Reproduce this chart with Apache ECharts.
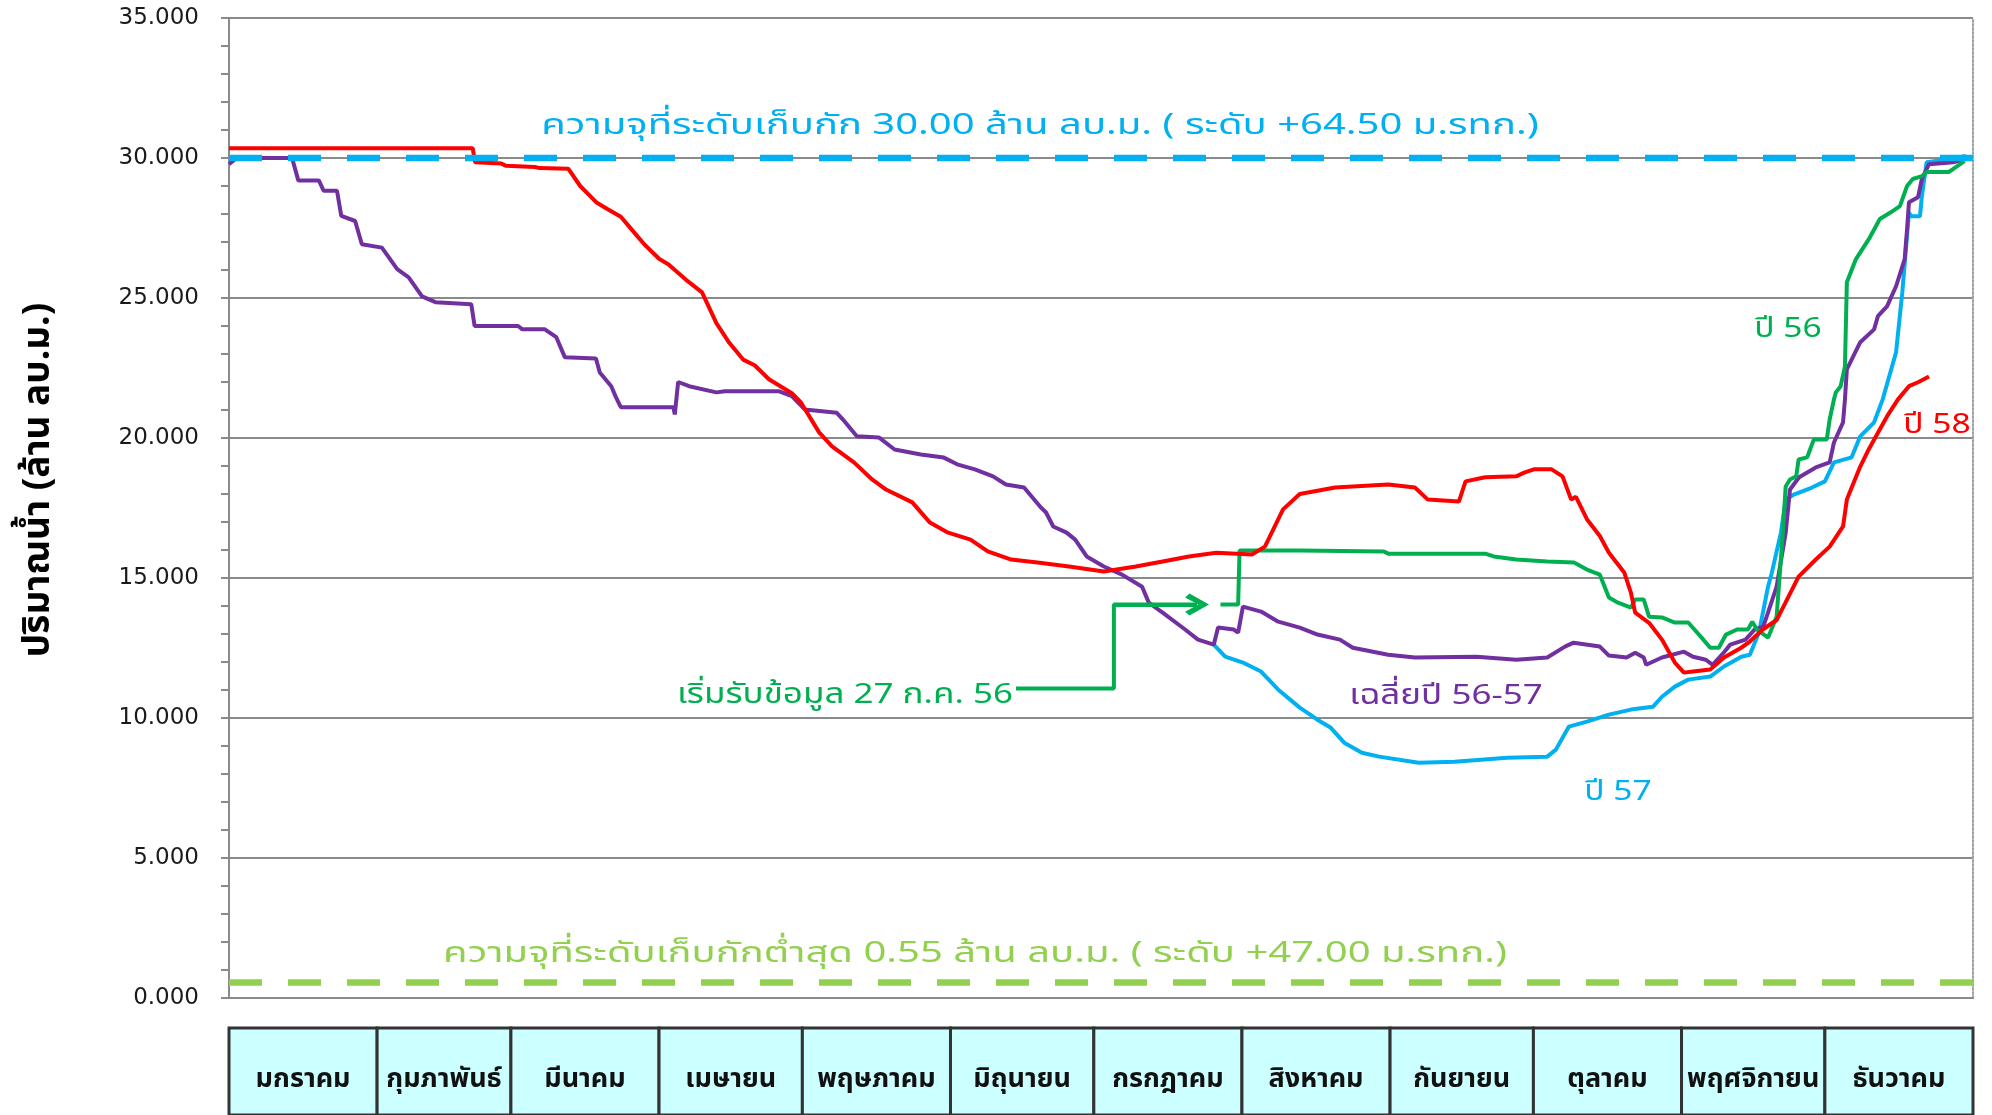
<!DOCTYPE html>
<html>
<head>
<meta charset="utf-8">
<script src="https://cdn.jsdelivr.net/npm/echarts@6/dist/echarts.min.js"></script>
<style>
  html, body { margin: 0; padding: 0; background: #fff; }
  #chart { width: 1992px; height: 1115px; }
</style>
</head>
<body>
<div id="chart"></div>
<script>
// storage (ล้าน ลบ.ม.) as [day of year, value]
const year58 = [[0,30.35],[51,30.35],[51.5,29.85],[57,29.8],[58,29.72],[64,29.68],[65,29.64],[71,29.62],[73.5,29.0],[77,28.4],[79,28.2],[82,27.9],[85,27.3],[87,26.9],[90,26.4],[92,26.2],[96,25.6],[99,25.2],[102,24.1],[104.7,23.4],[107.6,22.8],[110,22.6],[113,22.1],[117.8,21.6],[119.7,21.27],[123.5,20.2],[126.2,19.7],[130.8,19.13],[134.6,18.52],[137.5,18.16],[143,17.7],[146.7,16.98],[150.5,16.62],[155.2,16.37],[158.8,15.95],[163.7,15.66],[169.2,15.55],[175.8,15.41],[183.1,15.23],[189.8,15.41],[195.4,15.59],[200.9,15.77],[206.6,15.9],[214.1,15.84],[216.8,16.12],[220.6,17.45],[224.1,18.0],[231.5,18.23],[242.6,18.34],[248.2,18.23],[250.9,17.8],[257.4,17.73],[258.8,18.45],[262.9,18.6],[269.4,18.63],[271.2,18.77],[273.1,18.88],[276.8,18.88],[279.1,18.63],[280.9,17.8],[281.9,17.9],[284.2,17.1],[286.9,16.5],[288.8,15.9],[292,15.2],[293.4,14.48],[294.3,13.76],[297.2,13.4],[299.9,12.8],[302.6,11.98],[304.5,11.62],[306.4,11.66],[310,11.73],[312.9,12.16],[316.4,12.5],[318.3,12.73],[321,13.16],[323.9,13.5],[325.7,14.1],[328.5,15.05],[332.1,15.66],[335,16.12],[337.8,16.84],[338.6,17.8],[341.4,18.98],[343.2,19.6],[344.7,20.06],[347,20.77],[349.3,21.38],[351.6,21.85],[353.5,21.99],[355.8,22.2]];

const avg5657 = [[0,29.78],[1.6,30.0],[13.2,30.0],[14.5,29.2],[18.8,29.2],[19.8,28.83],[22.6,28.83],[23.5,27.93],[26.4,27.75],[27.8,26.92],[32,26.8],[35.2,26.03],[37.6,25.74],[40.4,25.06],[43.2,24.85],[50.7,24.78],[51.4,24.0],[60.5,24.0],[61.4,23.88],[66.1,23.88],[68.5,23.6],[70.3,22.88],[76.8,22.84],[77.6,22.34],[80,21.85],[81,21.45],[82,21.1],[93,21.1],[93.3,20.84],[94,22.0],[96.3,21.85],[102,21.63],[103.8,21.67],[115,21.67],[117.8,21.5],[120.5,21.02],[127.2,20.9],[128.5,20.66],[131.4,20.06],[136,20.02],[139.3,19.59],[144.8,19.41],[149.6,19.3],[152.4,19.06],[156.1,18.88],[159.9,18.63],[162.6,18.34],[166.4,18.23],[169.7,17.56],[171,17.34],[172.5,16.84],[175.3,16.62],[177.1,16.37],[179.5,15.77],[183.1,15.41],[186.9,15.12],[191.1,14.69],[192.5,14.12],[195.4,13.76],[200.1,13.16],[202.8,12.8],[206.1,12.62],[207,13.23],[210.3,13.16],[211.2,13.05],[212.2,13.98],[216,13.8],[219.6,13.44],[224.1,13.23],[227.8,12.98],[232.5,12.8],[235.2,12.51],[242.6,12.26],[248.2,12.16],[261.1,12.19],[269.4,12.08],[275.9,12.16],[279.6,12.55],[281.4,12.69],[286.9,12.55],[288.8,12.23],[292.5,12.16],[294.3,12.33],[296.1,12.16],[296.6,11.9],[299.9,12.16],[304.5,12.37],[306.4,12.19],[309.1,12.08],[310.5,11.9],[312.8,12.33],[314.2,12.62],[317.4,12.8],[319.3,13.16],[321.1,13.26],[322.1,13.76],[323.9,14.69],[325.8,16.62],[326.7,18.16],[328.6,18.6],[332.1,18.95],[335,19.13],[335.9,19.84],[337.8,20.56],[338.2,21.38],[338.6,22.45],[341.4,23.42],[344.3,23.88],[345.1,24.35],[347,24.7],[348.9,25.42],[350.7,26.39],[351.2,27.46],[351.6,28.42],[353.5,28.6],[354.3,29.25],[355.8,29.78],[360.8,29.85],[363.5,29.96]];

const year57 = [[206.1,12.62],[208.5,12.19],[212.2,11.98],[216,11.66],[219.6,11.01],[224.1,10.37],[227.8,9.94],[230.6,9.65],[233.4,9.12],[237.1,8.76],[240.7,8.62],[249,8.4],[256.5,8.44],[267.5,8.58],[275.9,8.62],[277.7,8.87],[280.4,9.69],[284.2,9.87],[288.8,10.12],[293.4,10.3],[298,10.4],[299.9,10.76],[302.6,11.12],[305.4,11.37],[310,11.48],[312.8,11.83],[316.5,12.19],[318.3,12.26],[320.2,13.05],[322.1,14.69],[322.9,15.19],[324.8,16.62],[325.8,17.8],[327.5,17.98],[331.3,18.23],[334,18.45],[335.9,19.13],[339.6,19.31],[341.4,20.06],[344.3,20.56],[346.1,21.38],[348.9,23.06],[350.2,25.2],[351.6,28.06],[352,27.92],[353.9,27.92],[354.3,28.64],[355.3,29.85],[359.9,29.96],[363.5,30.07]];

const year56 = [[207.5,14.05],[211.2,14.05],[211.5,15.98],[224.1,15.98],[241.7,15.95],[242.6,15.87],[262.9,15.87],[264.7,15.77],[269.4,15.66],[275.9,15.59],[281.5,15.55],[284.2,15.3],[286.9,15.12],[287.9,14.69],[288.8,14.3],[290.7,14.12],[293.4,13.94],[294.3,14.23],[296.1,14.23],[297.2,13.62],[299.9,13.59],[302.6,13.41],[305.4,13.41],[308.2,12.87],[310,12.51],[311.8,12.51],[313.3,12.98],[315.6,13.16],[317.9,13.16],[318.8,13.44],[319.8,13.16],[322.1,12.87],[323.9,13.62],[325.2,16.62],[325.8,18.27],[326.7,18.52],[328,18.63],[328.5,19.23],[330.3,19.31],[331.7,19.95],[334.4,19.95],[335,20.66],[335.9,21.38],[336.3,21.63],[337.3,21.85],[338.2,22.56],[338.6,25.56],[340.5,26.39],[343.2,27.1],[345.5,27.82],[347.8,28.06],[349.7,28.28],[351.2,29.0],[352.4,29.25],[354.3,29.35],[355.3,29.5],[359.9,29.5],[360.8,29.6],[363.2,29.89]];

// reference levels
const capacityMax = 30;
const capacityMin = 0.55;

// callout pointing at the start of the 2556 record
const startArrow = [[164.7,11.05],[185.2,11.05],[185.2,14.05],[202.6,14.05]];

// month table under the chart
const months = ['มกราคม','กุมภาพันธ์','มีนาคม','เมษายน','พฤษภาคม','มิถุนายน','กรกฎาคม','สิงหาคม','กันยายน','ตุลาคม','พฤศจิกายน','ธันวาคม'];
const monthDays = [31,28,31,30,31,30,31,31,30,31,30,31];

const yMin = 0, yMax = 35, yStep = 5;
const dayMax = 365;

const thaiFont = 'Tahoma, "Noto Sans Thai", "Noto Sans", "DejaVu Sans", sans-serif';

let acc = 0;
const monthCells = monthDays.map((d) => { const cell = [acc, acc + d]; acc += d; return cell; });

const chart = echarts.init(document.getElementById('chart'));

const seriesLine = (name, data, color, z) => ({
  name, type: 'line', data, z,
  showSymbol: false, symbol: 'none', silent: true,
  lineStyle: { color, width: 4 }
});

const levelLine = (value, color, z) => ({
  type: 'line', z, silent: true, symbol: 'none',
  data: [[0, value], [dayMax, value]],
  lineStyle: { color, width: 6.5, type: [33, 26] }
});

// annotation text, stretched sideways like the original picture
const note = (text, x, y, color, size, stretch, align) => ({
  type: 'text', x, y, z: 100, scaleX: stretch,
  style: {
    text, fill: color, font: `${size}px ${thaiFont}`,
    align: align || 'center', textAlign: align || 'center',
    verticalAlign: 'middle', textVerticalAlign: 'middle'
  }
});

chart.setOption({
  animation: false,
  backgroundColor: '#fff',
  grid: [
    { left: 229, right: 19, top: 18, bottom: 117 },
    { left: 229, right: 19, top: 1028, height: 100 }
  ],
  xAxis: [
    {
      type: 'value', gridIndex: 0, min: 0, max: dayMax,
      axisLine: { show: true, lineStyle: { color: '#8a8a8a', width: 2 } },
      axisTick: { show: false }, axisLabel: { show: false }, splitLine: { show: false }
    },
    { type: 'value', gridIndex: 1, min: 0, max: dayMax, show: false }
  ],
  yAxis: [
    {
      type: 'value', gridIndex: 0, min: yMin, max: yMax, interval: yStep,
      axisLine: { show: true, lineStyle: { color: '#8a8a8a', width: 2 } },
      axisTick: { show: true, length: 8, lineStyle: { color: '#8a8a8a', width: 2 } },
      minorTick: { show: true, splitNumber: 5, length: 8, lineStyle: { color: '#8a8a8a', width: 2 } },
      axisLabel: {
        formatter: (v) => v.toFixed(3), margin: 30,
        fontFamily: '"DejaVu Sans", sans-serif', fontSize: 23, color: '#1a1a1a'
      },
      splitLine: { show: true, lineStyle: { color: '#8a8a8a', width: 2 } }
    },
    {
      type: 'value', gridIndex: 0, position: 'right', min: yMin, max: yMax,
      axisLine: { show: true, lineStyle: { color: '#a0a0a0', width: 2, type: 'dotted' } },
      axisTick: { show: false }, axisLabel: { show: false }, splitLine: { show: false }
    },
    { type: 'value', gridIndex: 1, min: 0, max: 1, show: false }
  ],
  series: [
    seriesLine('ปี 57', year57, '#00B0F0', 3),
    seriesLine('เฉลี่ยปี 56-57', avg5657, '#7030A0', 4),
    seriesLine('ปี 56', year56, '#00B050', 5),
    seriesLine('ปี 58', year58, '#FF0000', 6),
    levelLine(capacityMax, '#00B0F0', 7),
    levelLine(capacityMin, '#92D050', 7),
    {
      type: 'line', z: 8, silent: true, symbol: 'none',
      data: startArrow,
      lineStyle: { color: '#00B050', width: 4 },
      markLine: {
        silent: true, animation: false,
        symbol: ['none', 'path://M10,0 L20,11 L16.5,13.5 L10,6 L3.5,13.5 L0,11 Z'],
        symbolSize: [22, 24],
        label: { show: false },
        lineStyle: { color: '#00B050', width: 4, type: 'solid' },
        data: [[{ coord: startArrow[2] }, { coord: startArrow[3] }]]
      }
    },
    {
      type: 'custom', xAxisIndex: 1, yAxisIndex: 2, clip: false, silent: true,
      data: monthCells,
      renderItem: (params, api) => {
        const p0 = api.coord([api.value(0), 1]);
        const p1 = api.coord([api.value(1), 0]);
        return {
          type: 'rect',
          shape: { x: p0[0], y: p0[1], width: p1[0] - p0[0], height: p1[1] - p0[1] },
          style: { fill: '#CCFFFF', stroke: '#333', lineWidth: 3 },
          textContent: {
            style: { text: months[params.dataIndex], font: `bold 27px ${thaiFont}`, fill: '#111' }
          },
          textConfig: { position: 'inside', offset: [0, 10] }
        };
      }
    }
  ],
  graphic: [
    note('ความจุที่ระดับเก็บกัก 30.00 ล้าน ลบ.ม. ( ระดับ +64.50 ม.รทก.)', 1040, 128, '#00B0F0', 29, 1.38),
    note('ความจุที่ระดับเก็บกักต่ำสุด 0.55 ล้าน ลบ.ม. ( ระดับ +47.00 ม.รทก.)', 975, 956, '#92D050', 29, 1.38),
    note('เริ่มรับข้อมูล 27 ก.ค. 56', 1013, 697, '#00B050', 28, 1.25, 'right'),
    note('เฉลี่ยปี 56-57', 1446, 698, '#7030A0', 28, 1.25),
    note('ปี 57', 1618, 794, '#00B0F0', 28, 1.2),
    note('ปี 56', 1788, 331, '#00B050', 28, 1.2),
    note('ปี 58', 1937, 427, '#FF0000', 28, 1.2),
    {
      type: 'text', x: 42, y: 480, rotation: Math.PI / 2, z: 100,
      style: {
        text: 'ปริมาณน้ำ (ล้าน ลบ.ม.)', fill: '#000', font: `bold 37px ${thaiFont}`,
        align: 'center', textAlign: 'center', verticalAlign: 'middle', textVerticalAlign: 'middle'
      }
    }
  ]
});
</script>
</body>
</html>
